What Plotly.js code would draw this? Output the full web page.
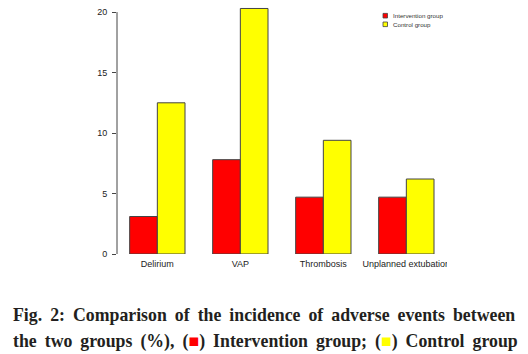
<!DOCTYPE html>
<html><head><meta charset="utf-8">
<script src="https://cdn.plot.ly/plotly-3.0.1.min.js"></script>
<style>html,body{margin:0;padding:0;background:#fff}</style>
</head><body>
<div id="chart" style="width:528px;height:354px"></div>
<script>
const categories = ["Delirium", "VAP", "Thrombosis", "Unplanned extubation"];
const interventionValues = [3.1, 7.8, 4.7, 4.7];
const controlValues = [12.5, 20.3, 9.4, 6.2];
const seriesNames = ["Intervention group", "Control group"];
const yTickValues = [0, 5, 10, 15, 20];

const W = 528, H = 354;
const L = 117, R = 447, T = 0, B = 254;
const px2x = p => (p - L) / (R - L);
const py2y = p => (B - p) / (B - T);

const traces = [
  {type: "bar", name: seriesNames[0], x: categories, y: interventionValues,
   marker: {color: "#ff0000", line: {color: "#444", width: 1}}, hoverinfo: "none"},
  {type: "bar", name: seriesNames[1], x: categories, y: controlValues,
   marker: {color: "#ffff00", line: {color: "#444", width: 1}}, hoverinfo: "none"}
];

const legendItems = [
  {name: seriesNames[0], color: "#ff0000", cy: 15.7},
  {name: seriesNames[1], color: "#ffff00", cy: 24.3}
];

const shapes = [
  {type: "line", xref: "paper", yref: "y", x0: 0, x1: 0, y0: 0, y1: 20,
   line: {color: "#444", width: 1}},
  // clip the last category label at the figure edge, as in the original
  {type: "rect", xref: "paper", yref: "paper", layer: "above",
   x0: px2x(447), x1: px2x(470), y0: py2y(275), y1: py2y(256),
   fillcolor: "#fff", line: {width: 0}}
];
const annotations = [];
legendItems.forEach(it => {
  shapes.push({type: "rect", xref: "paper", yref: "paper",
    x0: px2x(383), x1: px2x(387.5), y0: py2y(it.cy + 2.3), y1: py2y(it.cy - 2.3),
    fillcolor: it.color, line: {color: "#444", width: 0.8}});
  annotations.push({xref: "paper", yref: "paper", x: px2x(391), y: py2y(it.cy),
    xanchor: "left", yanchor: "middle", showarrow: false, text: it.name,
    font: {family: "Liberation Sans, Arial, sans-serif", size: 6.2, color: "#333"}});
});

const sp = " \u2009";
const capFont = {family: "Liberation Serif, Times New Roman, serif", size: 17.8, color: "#231f20"};
const cap1 = "Fig. 2: Comparison of the incidence of adverse events between".split(" ").join(sp);
const cap2 = ["the", "two", "groups", "(%),", "(<span style='color:#ff0000'>■</span>)", "Intervention",
  "group;", "(<span style='color:#ffff00'>■</span>)", "Control", "group"].join(sp);
annotations.push({xref: "paper", yref: "paper", x: px2x(11), y: py2y(315),
  xanchor: "left", yanchor: "middle", showarrow: false, font: capFont,
  text: "<b>" + cap1 + "</b>"});
annotations.push({xref: "paper", yref: "paper", x: px2x(11), y: py2y(341),
  xanchor: "left", yanchor: "middle", showarrow: false, font: capFont,
  text: "<b>" + cap2 + "</b>"});

const layout = {
  width: W, height: H,
  margin: {l: L, r: W - R, t: T, b: H - B, pad: 0},
  paper_bgcolor: "#fff", plot_bgcolor: "#fff",
  showlegend: false,
  bargap: 1/3, bargroupgap: 0, barmode: "group",
  xaxis: {range: [-0.486, 3.49], showline: false, showgrid: false, zeroline: false,
    ticks: "", ticklabelstandoff: 3,
    tickfont: {family: "Liberation Sans, Arial, sans-serif", size: 9, color: "#222"},
    fixedrange: true},
  yaxis: {range: [0, 21], showline: false, showgrid: false, zeroline: false,
    tickvals: yTickValues, ticktext: yTickValues.map(String), ticks: "outside", ticklen: 4,
    tickcolor: "#444", tickwidth: 1, ticklabelstandoff: 3,
    tickfont: {family: "Liberation Sans, Arial, sans-serif", size: 9, color: "#222"},
    fixedrange: true},
  shapes: shapes,
  annotations: annotations
};
Plotly.newPlot("chart", traces, layout, {displayModeBar: false, staticPlot: true});
</script>
</body></html>
